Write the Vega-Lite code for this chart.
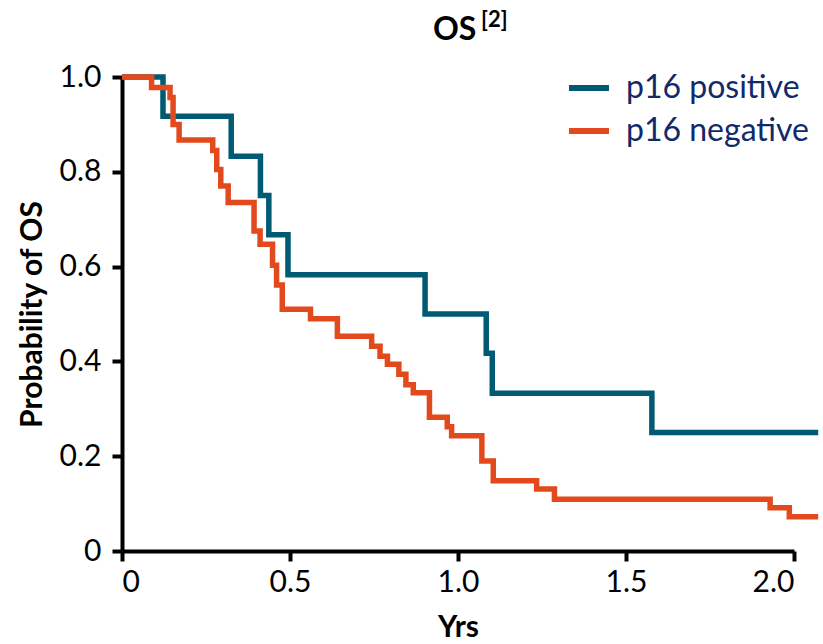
{
  "$schema": "https://vega.github.io/schema/vega-lite/v6.json",
  "width": 672,
  "height": 474,
  "autosize": {"type": "none"},
  "padding": {"left": 122, "top": 77, "right": 29, "bottom": 93},
  "background": "white",
  "title": {
    "text": "OS",
    "subtitle": "\u200b\u00a0\u00a0\u00a0\u00a0\u00a0\u00a0\u00a0\u00a0\u00a0[2]",
    "anchor": "middle",
    "align": "left",
    "dx": -25,
    "font": "Lato",
    "fontSize": 32,
    "fontWeight": "bold",
    "color": "black",
    "subtitleFont": "Lato",
    "subtitleFontSize": 22,
    "subtitleFontWeight": "bold",
    "subtitleColor": "black",
    "subtitlePadding": -37,
    "offset": 10
  },
  "config": {
    "view": {"stroke": null},
    "axis": {
      "domainColor": "black",
      "domainWidth": 4,
      "tickColor": "black",
      "tickWidth": 4,
      "tickSize": 10,
      "labelFont": "Lato",
      "labelFontSize": 30,
      "labelColor": "black",
      "labelPadding": 6,
      "titleFont": "Lato",
      "titleFontSize": 30,
      "titleFontWeight": "bold",
      "titleColor": "black",
      "grid": false
    }
  },
  "data": {
    "values": [
      {"group": "p16 positive", "t": 0, "s": 1.0},
      {"group": "p16 positive", "t": 0.122, "s": 0.917},
      {"group": "p16 positive", "t": 0.325, "s": 0.833},
      {"group": "p16 positive", "t": 0.412, "s": 0.75},
      {"group": "p16 positive", "t": 0.437, "s": 0.667},
      {"group": "p16 positive", "t": 0.494, "s": 0.583},
      {"group": "p16 positive", "t": 0.902, "s": 0.5},
      {"group": "p16 positive", "t": 1.084, "s": 0.417},
      {"group": "p16 positive", "t": 1.102, "s": 0.333},
      {"group": "p16 positive", "t": 1.577, "s": 0.25},
      {"group": "p16 positive", "t": 2.072, "s": 0.25},
      {"group": "p16 negative", "t": 0, "s": 1.0},
      {"group": "p16 negative", "t": 0.088, "s": 0.978},
      {"group": "p16 negative", "t": 0.143, "s": 0.957},
      {"group": "p16 negative", "t": 0.152, "s": 0.9},
      {"group": "p16 negative", "t": 0.17, "s": 0.867},
      {"group": "p16 negative", "t": 0.27, "s": 0.845},
      {"group": "p16 negative", "t": 0.282, "s": 0.805},
      {"group": "p16 negative", "t": 0.294, "s": 0.77},
      {"group": "p16 negative", "t": 0.316, "s": 0.735},
      {"group": "p16 negative", "t": 0.393, "s": 0.675},
      {"group": "p16 negative", "t": 0.411, "s": 0.647},
      {"group": "p16 negative", "t": 0.448, "s": 0.603},
      {"group": "p16 negative", "t": 0.46, "s": 0.561},
      {"group": "p16 negative", "t": 0.477, "s": 0.51},
      {"group": "p16 negative", "t": 0.561, "s": 0.49},
      {"group": "p16 negative", "t": 0.641, "s": 0.453},
      {"group": "p16 negative", "t": 0.743, "s": 0.432},
      {"group": "p16 negative", "t": 0.768, "s": 0.411},
      {"group": "p16 negative", "t": 0.79, "s": 0.394},
      {"group": "p16 negative", "t": 0.824, "s": 0.373},
      {"group": "p16 negative", "t": 0.845, "s": 0.351},
      {"group": "p16 negative", "t": 0.867, "s": 0.334},
      {"group": "p16 negative", "t": 0.915, "s": 0.282},
      {"group": "p16 negative", "t": 0.968, "s": 0.262},
      {"group": "p16 negative", "t": 0.981, "s": 0.243},
      {"group": "p16 negative", "t": 1.071, "s": 0.19},
      {"group": "p16 negative", "t": 1.105, "s": 0.148},
      {"group": "p16 negative", "t": 1.234, "s": 0.131},
      {"group": "p16 negative", "t": 1.287, "s": 0.109},
      {"group": "p16 negative", "t": 1.929, "s": 0.091},
      {"group": "p16 negative", "t": 1.986, "s": 0.072},
      {"group": "p16 negative", "t": 2.072, "s": 0.072}
    ]
  },
  "mark": {"type": "line", "interpolate": "step-after", "strokeWidth": 5.5, "clip": false},
  "encoding": {
    "x": {
      "field": "t",
      "type": "quantitative",
      "scale": {"domain": [0, 2], "nice": false},
      "axis": {
        "title": "Yrs",
        "values": [0, 0.5, 1, 1.5, 2],
        "labelExpr": "datum.value === 0 ? '0' : format(datum.value, '.1f')",
        "labelPadding": 6,
        "titlePadding": 15
      }
    },
    "y": {
      "field": "s",
      "type": "quantitative",
      "scale": {"domain": [0, 1], "nice": false},
      "axis": {
        "title": "Probability of OS",
        "values": [0, 0.2, 0.4, 0.6, 0.8, 1.0],
        "labelExpr": "datum.value === 0 ? '0' : format(datum.value, '.1f')",
        "labelPadding": 11,
        "titlePadding": 12
      }
    },
    "color": {
      "field": "group",
      "type": "nominal",
      "sort": ["p16 positive", "p16 negative"],
      "scale": {"domain": ["p16 positive", "p16 negative"], "range": ["#005A73", "#E24A1E"]},
      "legend": {
        "title": null,
        "orient": "none",
        "legendX": 444,
        "legendY": -12,
        "padding": 0,
        "symbolType": "stroke",
        "symbolStrokeWidth": 6,
        "symbolSize": 1600,
        "labelFont": "Lato",
        "labelFontSize": 32,
        "labelColor": "#12296A",
        "labelOffset": 14,
        "labelLimit": 0,
        "rowPadding": 4
      }
    }
  }
}
